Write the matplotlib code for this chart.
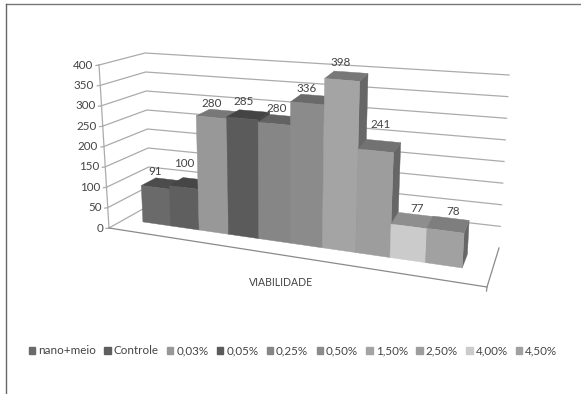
import numpy as np
import matplotlib
matplotlib.use("Agg")
import matplotlib.pyplot as plt
from matplotlib.patches import Polygon, Patch

# Cell viability per treatment
categories = ["nano+meio", "Controle", "0,03%", "0,05%", "0,25%",
              "0,50%", "1,50%", "2,50%", "4,00%", "4,50%"]
values = [91, 100, 280, 285, 280, 336, 398, 241, 77, 78]
y_ticks = [0, 50, 100, 150, 200, 250, 300, 350, 400]
x_title = "VIABILIDADE"

front_colors = ["#6a6a6a", "#5f5f5f", "#989898", "#5b5b5b", "#868686",
                "#8b8b8b", "#a4a4a4", "#9d9d9d", "#cbcbcb", "#a1a1a1"]
top_colors = ["#4c4c4c", "#464646", "#787878", "#444444", "#626262",
              "#6a6a6a", "#787878", "#727272", "#8e8e8e", "#7e7e7e"]
side_colors = ["#4a4a4a", "#444444", "#6c6c6c", "#424242", "#5e5e5e",
               "#636363", "#676767", "#666666", "#7c7c7c", "#666666"]

plt.rcParams["font.family"] = ["Lato", "DejaVu Sans"]
TEXT = "#444444"
GRID = "#ababab"
FS = 8.4

fig = plt.figure(figsize=(5.81, 3.94), dpi=100)
ax = fig.add_axes([0, 0, 1, 1])
ax.set_xlim(0, 581)
ax.set_ylim(394, 0)
ax.axis("off")

# Corners of the 3D chart box on the page: floor level and top-of-scale level
FLOOR = {"fl": (109, 228), "fr": (487, 287), "bl": (150, 205), "br": (499, 248)}
CEIL = {"fl": (99, 65), "fr": (499, 103), "bl": (145, 53), "br": (509, 75)}
VMAX = y_ticks[-1]


def project(u, d, v):
    """Map position along the floor, depth and value to page coordinates."""
    f = v / VMAX
    out = np.zeros(2)
    for key, wt in (("fl", (1 - u) * (1 - d)), ("fr", u * (1 - d)),
                    ("bl", (1 - u) * d), ("br", u * d)):
        out += wt * ((1 - f) * np.array(FLOOR[key]) + f * np.array(CEIL[key]))
    return out


def along(t, k=1.17, u0=0.05, u1=0.92):
    """Foreshortened position of a bar edge, t running from 0 to 1 over all bars."""
    return u0 + (u1 - u0) * t / (t + k * (1 - t))


# Walls: gridlines run along the left wall and then the back wall
for v in y_ticks:
    pts = np.array([project(0, 0, v), project(0, 1, v), project(1, 1, v)])
    if v == 0:
        pts = pts[:2]
    ax.plot(pts[:, 0], pts[:, 1], color=GRID, lw=0.9, zorder=1)
    a = project(0, 0, v)
    ax.plot([a[0] - 3, a[0]], [a[1] + 0.5, a[1]], color=GRID, lw=0.9, zorder=1)
    ax.text(a[0] - 6, a[1], str(v), ha="right", va="center", fontsize=FS, color=TEXT)

axis_line = np.array([project(0, 0, 0), project(0, 0, VMAX)])
ax.plot(axis_line[:, 0], axis_line[:, 1], color=GRID, lw=0.9, zorder=1)

# Floor outline
floor = np.array([project(0, 0, 0), project(1, 0, 0), project(1, 1, 0)])
ax.plot(floor[:, 0], floor[:, 1], color="#8a8a8a", lw=0.9, zorder=1)
corner = project(1, 0, 0)
ax.plot([corner[0], corner[0] - 0.5], [corner[1], corner[1] + 4], color="#8a8a8a", lw=0.9, zorder=1)

# Bars, painted left to right so each front face covers its neighbour's side
D0, D1 = 0.38, 0.74
n = len(values)
label_offsets = [(0, -16), (1, -24), (0, -14), (1, -17), (2, -15),
                 (-1, -15), (-1, -17), (5, -26), (8, -18), (8, -19)]
for i, (v, fc, tc, sc) in enumerate(zip(values, front_colors, top_colors, side_colors)):
    u_l, u_r = along(i / n), along((i + 1) / n)
    front = [project(u_l, D0, 0), project(u_r, D0, 0), project(u_r, D0, v), project(u_l, D0, v)]
    top = [project(u_l, D0, v), project(u_r, D0, v), project(u_r, D1, v), project(u_l, D1, v)]
    side = [project(u_r, D0, 0), project(u_r, D1, 0), project(u_r, D1, v), project(u_r, D0, v)]
    z = 2 + i
    ax.add_patch(Polygon(side, closed=True, fc=sc, ec=sc, lw=0.3, zorder=z))
    ax.add_patch(Polygon(top, closed=True, fc=tc, ec=tc, lw=0.3, zorder=z))
    ax.add_patch(Polygon(front, closed=True, fc=fc, ec=fc, lw=0.3, zorder=z))
    anchor = project((u_l + u_r) / 2, D0, v)
    ox, oy = label_offsets[i]
    ax.text(anchor[0] + ox, anchor[1] + oy, str(v), ha="center", va="center",
            fontsize=FS, color=TEXT, zorder=30)

ax.text(281, 283, x_title, ha="center", va="center", fontsize=FS - 0.8, color=TEXT)

handles = [Patch(facecolor=c, edgecolor=c, label=lab) for c, lab in zip(front_colors, categories)]
ax.legend(handles=handles, ncol=n, loc="center", bbox_to_anchor=(293 / 581, 1 - 351 / 394),
          frameon=False, fontsize=FS, labelcolor=TEXT, handlelength=0.55, handleheight=0.6,
          handletextpad=0.25, columnspacing=0.72, borderpad=0, borderaxespad=0)

# Frame of the chart area: only the top and left edges show
ax.plot([6, 581], [4, 4], color="#777777", lw=1.0, zorder=40, clip_on=False)
ax.plot([6, 6], [4, 394], color="#666666", lw=1.0, zorder=40, clip_on=False)

fig.savefig("out.png", dpi=100)
